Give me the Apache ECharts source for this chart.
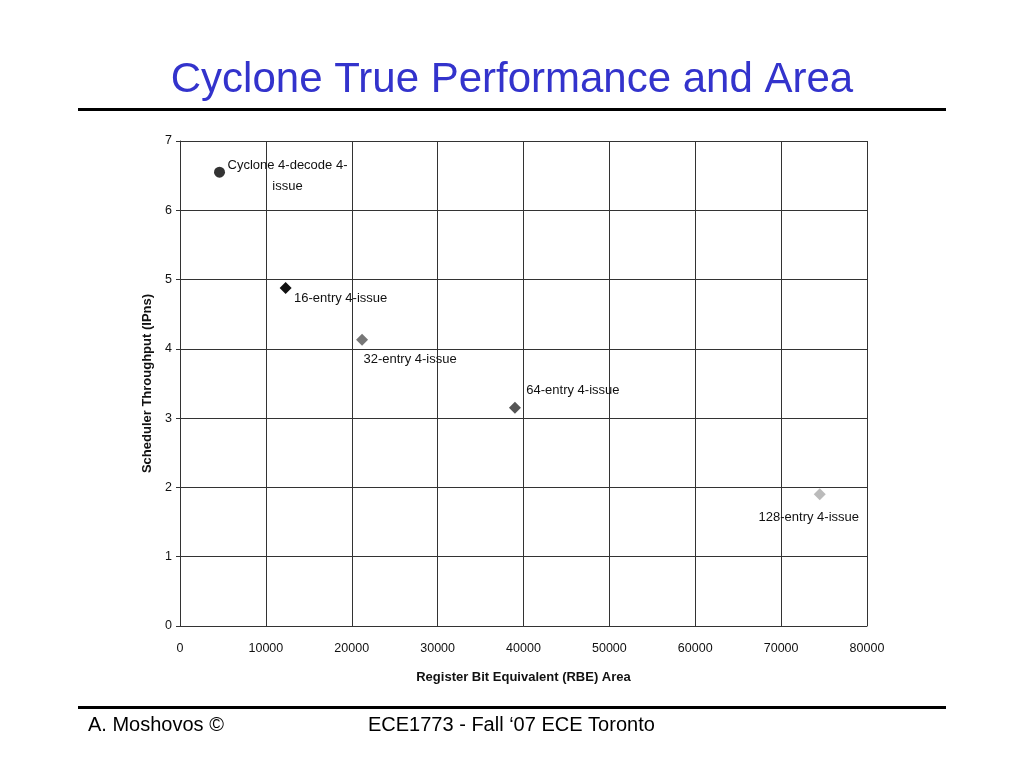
<!DOCTYPE html>
<html style="height: 100%;">
  <head>
    <meta charset="utf-8" />
    <script src="https://cdn.jsdelivr.net/npm/echarts/dist/echarts.min.js"></script>
  </head>
  <body style="height: 100%; margin: 0; background: #fff;">
    <div id="container" style="width: 1024px; height: 768px;"></div>
    <script type="text/javascript">
      // design points: [RBE area, scheduler throughput]
      var names = [
        "Cyclone 4-decode 4-\nissue",
        "16-entry 4-issue",
        "32-entry 4-issue",
        "64-entry 4-issue",
        "128-entry 4-issue"
      ];
      var area = [4600, 12300, 21200, 39000, 74500];
      var throughput = [6.55, 4.88, 4.13, 3.15, 1.9];

      var symbols = ["circle", "diamond", "diamond", "diamond", "diamond"];
      var colors = ["#333333", "#111111", "#777777", "#555555", "#bbbbbb"];
      var labelOffsets = [[68, 4], [55, 11], [48, 20], [58, -17], [-11, 23]];

      var font = "Liberation Sans, Arial, sans-serif";

      var points = names.map(function (n, i) {
        return {
          name: n,
          value: [area[i], throughput[i]],
          symbol: symbols[i],
          symbolSize: i === 0 ? 11 : 12,
          itemStyle: { color: colors[i], opacity: 1 },
          label: {
            show: true,
            position: "inside",
            offset: labelOffsets[i],
            align: "center",
            color: "#111",
            formatter: "{b}"
          }
        };
      });

      var chart = echarts.init(document.getElementById("container"));
      var option = {
        animation: false,
        title: {
          text: "Cyclone True Performance and Area",
          left: "center",
          top: 54,
          textStyle: { color: "#3333cc", fontSize: 42, fontWeight: "normal", fontFamily: font }
        },
        graphic: [
          { type: "rect", shape: { x: 78, y: 108, width: 868, height: 3 }, style: { fill: "#000" } },
          { type: "rect", shape: { x: 78, y: 706, width: 868, height: 3 }, style: { fill: "#000" } },
          {
            type: "text", left: 88, top: 715,
            style: { text: "A. Moshovos \u00a9", fontSize: 20, fill: "#000", fontFamily: font }
          },
          {
            type: "text", left: 368, top: 715,
            style: { text: "ECE1773 - Fall \u201807 ECE Toronto", fontSize: 20, fill: "#000", fontFamily: font }
          }
        ],
        grid: { left: 180, right: 157, top: 141, bottom: 142 },
        xAxis: {
          type: "value",
          min: 0,
          max: 80000,
          interval: 10000,
          name: "Register Bit Equivalent (RBE) Area",
          nameLocation: "middle",
          nameGap: 45,
          nameTextStyle: { fontSize: 13, fontWeight: "bold", color: "#111", fontFamily: font },
          axisLine: { show: true, lineStyle: { color: "#333", width: 1 } },
          axisTick: { show: false },
          axisLabel: {
            fontSize: 12.5, color: "#111", margin: 16, fontFamily: font,
            formatter: function (v) { return String(v); }
          },
          splitLine: { show: true, lineStyle: { color: "#333", width: 1 } }
        },
        yAxis: {
          type: "value",
          min: 0,
          max: 7,
          interval: 1,
          name: "Scheduler Throughput (IPns)",
          nameLocation: "middle",
          nameGap: 24,
          nameTextStyle: { fontSize: 13, fontWeight: "bold", color: "#111", fontFamily: font },
          axisLine: { show: true, lineStyle: { color: "#333", width: 1 } },
          axisTick: { show: true, length: 4, lineStyle: { color: "#333" } },
          axisLabel: { fontSize: 12.5, color: "#111", margin: 8, fontFamily: font },
          splitLine: { show: true, lineStyle: { color: "#333", width: 1 } }
        },
        series: [
          {
            type: "scatter",
            data: points,
            label: { color: "#111", fontSize: 13, lineHeight: 21, fontFamily: font }
          }
        ]
      };
      chart.setOption(option);
    </script>
  </body>
</html>
